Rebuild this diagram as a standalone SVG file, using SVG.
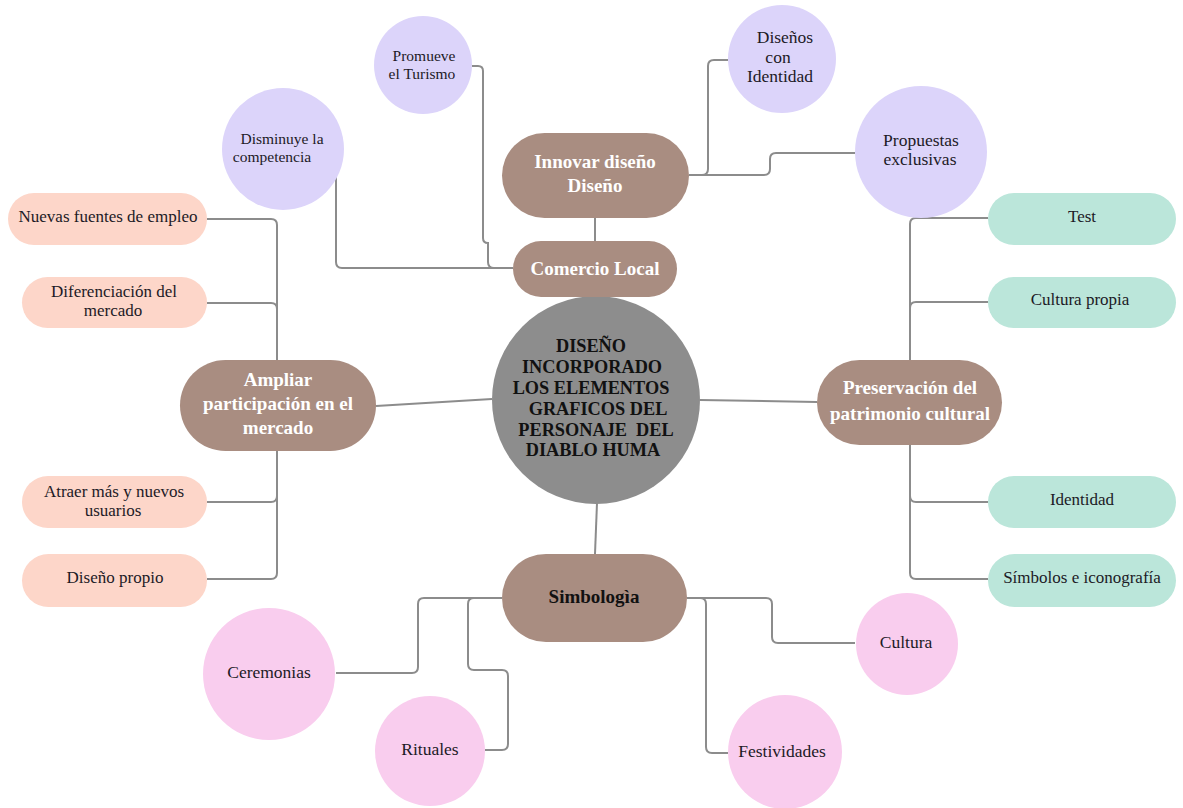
<svg xmlns="http://www.w3.org/2000/svg" width="1183" height="808" viewBox="0 0 1183 808">
<style>
text{font-family:"Liberation Serif","Times New Roman",serif;text-anchor:middle}
.t{font-size:17px;fill:#1c1a26}
.s{font-size:15.5px;fill:#1c1a26}
.b{font-size:17.5px;fill:#1c1a26}
.w{font-size:19px;font-weight:bold;fill:#ffffff}
.c{font-size:18.3px;font-weight:bold;fill:#111}
.br{fill:#a98d81}
.lav{fill:#dcd4fa}
.sal{fill:#fdd6c9}
.tea{fill:#bbe6da}
.pk{fill:#f9cdee}
.ln{fill:none;stroke:#8c8c8c;stroke-width:2}
</style>
<rect width="1183" height="808" fill="#ffffff"/>
<g id="connectors" class="ln">
<path d="M595,218 V241"/>
<path d="M596,297 V300"/>
<path d="M472,66 H478 Q483,66 483,71 V238 Q483,243 488,243 V262 Q488,268 494,268 H513"/>
<path d="M336,168 V262 Q336,268 342,268 H513"/>
<path d="M689,175 H702 Q708,175 708,169 V66 Q708,60 714,60 H728"/>
<path d="M689,175 H764 Q770,175 770,169 V159 Q770,153 776,153 H855"/>
<path d="M207,219 H271 Q277,219 277,225 V360"/>
<path d="M207,303 H271 Q277,303 277,309"/>
<path d="M277,451 V573 Q277,579 271,579 H207"/>
<path d="M277,496 Q277,502 271,502 H207"/>
<path d="M376,406 L492,399"/>
<path d="M700,400 L817,402"/>
<path d="M988,218 H916 Q910,218 910,224 V360"/>
<path d="M988,302 H916 Q910,302 910,308"/>
<path d="M910,445 V573 Q910,579 916,579 H988"/>
<path d="M910,496 Q910,502 916,502 H988"/>
<path d="M597,503 L595,554"/>
<path d="M502,598 H424 Q418,598 418,604 V667 Q418,673 412,673 H336"/>
<path d="M502,598 H474 Q468,598 468,604 V664 Q468,670 474,670 H502 Q508,670 508,676 V744 Q508,750 502,750 H485"/>
<path d="M687,598 H766 Q772,598 772,604 V637 Q772,643 778,643 H855"/>
<path d="M687,598 H700 Q706,598 706,604 V747 Q706,753 712,753 H728"/>
</g>
<g id="center">
<circle cx="596" cy="400" r="104" fill="#8d8d8d"/>
<text class="c" x="591" y="352">DISEÑO</text>
<text class="c" x="592" y="373">INCORPORADO</text>
<text class="c" x="591" y="394">LOS ELEMENTOS</text>
<text class="c" x="598" y="415">GRAFICOS DEL</text>
<text class="c" x="596" y="436" xml:space="preserve">PERSONAJE  DEL</text>
<text class="c" x="593" y="456">DIABLO HUMA</text>
</g>
<g id="innovar">
<rect class="br" x="502" y="133" width="187" height="85" rx="42.5"/>
<text class="w" x="595" y="168">Innovar diseño</text>
<text class="w" x="595" y="192">Diseño</text>
</g>
<g id="comercio">
<rect class="br" x="513" y="241" width="164" height="56" rx="28"/>
<text class="w" x="595" y="275">Comercio Local</text>
</g>
<g id="promueve">
<circle class="lav" cx="423" cy="65" r="49"/>
<text class="s" x="424" y="61">Promueve</text>
<text class="s" x="422" y="79">el Turismo</text>
</g>
<g id="disminuye">
<circle class="lav" cx="283" cy="149" r="61"/>
<text class="s" x="282" y="144">Disminuye la</text>
<text class="s" x="272" y="162">competencia</text>
</g>
<g id="disenos">
<circle class="lav" cx="782" cy="59" r="54"/>
<text class="b" x="785" y="43">Diseños</text>
<text class="b" x="778" y="63">con</text>
<text class="b" x="780" y="82">Identidad</text>
</g>
<g id="propuestas">
<circle class="lav" cx="921" cy="152" r="66"/>
<text class="b" x="921" y="146">Propuestas</text>
<text class="b" x="920" y="165">exclusivas</text>
</g>
<g id="ampliar">
<rect class="br" x="180" y="360" width="196" height="91" rx="45.5"/>
<text class="w" x="278" y="386">Ampliar</text>
<text class="w" x="278" y="410">participación en el</text>
<text class="w" x="278" y="434">mercado</text>
</g>
<g id="nuevas">
<rect class="sal" x="8" y="193" width="199" height="52" rx="26"/>
<text class="t" x="108" y="222">Nuevas fuentes de empleo</text>
</g>
<g id="diferenciacion">
<rect class="sal" x="22" y="277" width="185" height="51" rx="25.5"/>
<text class="t" x="114" y="297">Diferenciación del</text>
<text class="t" x="113" y="316">mercado</text>
</g>
<g id="atraer">
<rect class="sal" x="22" y="476" width="185" height="52" rx="26"/>
<text class="t" x="114" y="497">Atraer más y nuevos</text>
<text class="t" x="113" y="516">usuarios</text>
</g>
<g id="disenopropio">
<rect class="sal" x="22" y="554" width="185" height="53" rx="26.5"/>
<text class="t" x="115" y="583">Diseño propio</text>
</g>
<g id="preservacion">
<rect class="br" x="817" y="360" width="185" height="85" rx="42.5"/>
<text class="w" x="910" y="394">Preservación del</text>
<text class="w" x="910" y="420">patrimonio cultural</text>
</g>
<g id="test">
<rect class="tea" x="988" y="193" width="188" height="52" rx="26"/>
<text class="t" x="1082" y="222">Test</text>
</g>
<g id="culturapropia">
<rect class="tea" x="988" y="277" width="188" height="51" rx="25.5"/>
<text class="t" x="1080" y="305">Cultura propia</text>
</g>
<g id="identidad">
<rect class="tea" x="988" y="476" width="188" height="52" rx="26"/>
<text class="t" x="1082" y="505">Identidad</text>
</g>
<g id="simbolos">
<rect class="tea" x="988" y="554" width="188" height="53" rx="26.5"/>
<text class="t" x="1082" y="583">Símbolos e iconografía</text>
</g>
<g id="simbologia">
<rect class="br" x="502" y="554" width="185" height="88" rx="44"/>
<text x="594" y="603" style="font-size:19px;font-weight:bold;fill:#111">Simbologìa</text>
</g>
<g id="ceremonias">
<circle class="pk" cx="269" cy="674" r="66"/>
<text class="b" x="269" y="678">Ceremonias</text>
</g>
<g id="rituales">
<circle class="pk" cx="430" cy="751" r="55"/>
<text class="b" x="430" y="755">Rituales</text>
</g>
<g id="cultura">
<circle class="pk" cx="907" cy="644" r="51"/>
<text class="b" x="906" y="648">Cultura</text>
</g>
<g id="festividades">
<circle class="pk" cx="785" cy="752" r="57"/>
<text class="b" x="782" y="757">Festividades</text>
</g>
</svg>
